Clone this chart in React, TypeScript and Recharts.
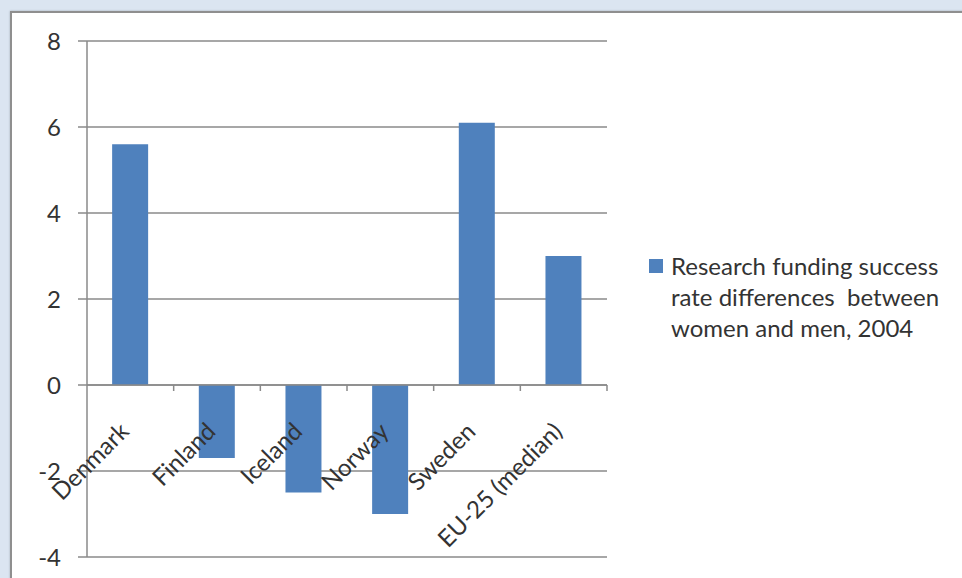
import React from 'react';
import { BarChart, Bar, XAxis, YAxis, CartesianGrid, ReferenceLine } from 'recharts';

const categories = ['Denmark', 'Finland', 'Iceland', 'Norway', 'Sweden', 'EU-25 (median)'];
const values = [5.6, -1.7, -2.5, -3.0, 6.1, 3.0];
const yTicks = [-4, -2, 0, 2, 4, 6, 8];
const seriesName = 'Research funding success rate differences between women and men, 2004';
const legendLines = ['Research funding success', 'rate differences  between', 'women and men, 2004'];

const data = categories.map((c, i) => ({ name: c, value: values[i] }));

const W = 962;
const H = 578;
const M = { top: 41, right: 355, bottom: 20, left: 0 };
const YW = 87;
const XH = 1;
const PLOT_TOP = M.top;
const PLOT_H = H - M.top - M.bottom - XH;
const PLOT_W = W - M.left - M.right - YW;
const Y_MIN = -4;
const Y_MAX = 8;

const FONT = 'Lato, "Open Sans", sans-serif';
const TEXT = '#333333';
const GRID = '#8a8a8a';
const BAR = '#4f81bd';

const XTick = (props: any) => {
  const { x, payload } = props;
  const band = PLOT_W / categories.length;
  const zeroY = PLOT_TOP + (PLOT_H * (Y_MAX - 0)) / (Y_MAX - Y_MIN);
  return (
    <g>
      <line x1={x + band / 2} x2={x + band / 2} y1={zeroY} y2={zeroY + 6} stroke={GRID} strokeWidth={1.5} />
      <text
        x={0}
        y={0}
        transform={`translate(${x},${zeroY + 48}) rotate(-45)`}
        textAnchor="end"
        fill={TEXT}
        fontSize={24}
        fontFamily={FONT}
      >
        {payload.value}
      </text>
    </g>
  );
};

export default function App() {
  return (
    <div
      style={{
        position: 'fixed',
        left: 0,
        top: 0,
        width: W,
        height: H,
        background: '#dbe5f1',
        overflow: 'hidden',
      }}
    >
      <div
        style={{
          position: 'absolute',
          left: 10,
          top: 11,
          width: 1000,
          height: 640,
          background: '#ffffff',
          borderLeft: '2px solid #8f8f8f',
          borderTop: '2px solid #8f8f8f',
          boxShadow: '0 0 2px rgba(0,0,0,0.25)',
        }}
      />
      <div style={{ position: 'absolute', left: 0, top: 0 }}>
        <BarChart width={W} height={H} data={data} margin={M} barCategoryGap="29%">
          <CartesianGrid vertical={false} stroke={GRID} strokeWidth={1.5} />
          <XAxis
            dataKey="name"
            height={XH}
            axisLine={false}
            tickLine={false}
            interval={0}
            tick={(p: any) => <XTick {...p} />}
          />
          <YAxis
            width={YW}
            domain={[Y_MIN, Y_MAX]}
            ticks={yTicks}
            interval={0}
            axisLine={{ stroke: GRID, strokeWidth: 1.5 }}
            tickLine={{ stroke: GRID, strokeWidth: 1.5 }}
            tickSize={9}
            tickMargin={17}
            tick={{ fill: TEXT, fontSize: 24, fontFamily: FONT }}
          />
          <ReferenceLine y={0} stroke={GRID} strokeWidth={1.5} />
          <Bar dataKey="value" name={seriesName} fill={BAR} isAnimationActive={false} />
        </BarChart>
      </div>
      <div
        style={{
          position: 'absolute',
          left: 649,
          top: 250,
          fontFamily: FONT,
          fontSize: 24,
          color: TEXT,
          lineHeight: '31px',
        }}
      >
        <div style={{ position: 'absolute', left: 0, top: 9, width: 14, height: 14, background: BAR }} />
        <div style={{ marginLeft: 22, whiteSpace: 'pre' }}>
          {legendLines.map((l, i) => (
            <div key={i}>{l}</div>
          ))}
        </div>
      </div>
    </div>
  );
}
